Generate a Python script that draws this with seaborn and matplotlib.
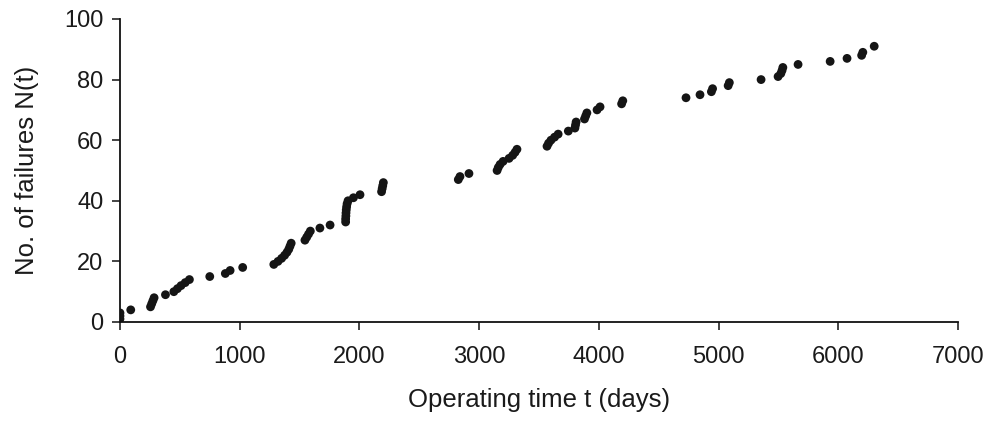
import matplotlib
matplotlib.use("Agg")
import matplotlib.pyplot as plt
import seaborn as sns
import pandas as pd

# Operating time (days) at each failure and cumulative number of failures
time_days = [
    0, 0, 0, 90,
    255, 265, 275, 285,
    380,
    450, 480, 510, 545, 580,
    750, 880, 920, 1025,
    1285, 1320, 1350, 1375, 1395, 1410, 1420, 1430,
    1545, 1560, 1575, 1590,
    1670, 1755,
    1885, 1885, 1887, 1888, 1890, 1893, 1897, 1905,
    1950, 2005,
    2185, 2190, 2195, 2200,
    2826, 2840, 2915,
    3150, 3160, 3175, 3200, 3250, 3280, 3300, 3316,
    3567, 3580, 3600, 3630, 3660,
    3745, 3800, 3805, 3810,
    3880, 3890, 3900,
    3985, 4010,
    4190, 4200,
    4728, 4845, 4940, 4950, 5080, 5090,
    5355, 5497, 5520, 5530, 5537,
    5664, 5932, 6073, 6195, 6205, 6300,
]
failures = [
    1, 2, 3, 4,
    5, 6, 7, 8,
    9,
    10, 11, 12, 13, 14,
    15, 16, 17, 18,
    19, 20, 21, 22, 23, 24, 25, 26,
    27, 28, 29, 30,
    31, 32,
    33, 34, 35, 36, 37, 38, 39, 40,
    41, 42,
    43, 44, 45, 46,
    47, 48, 49,
    50, 51, 52, 53, 54, 55, 56, 57,
    58, 59, 60, 61, 62,
    63, 64, 65, 66,
    67, 68, 69,
    70, 71,
    72, 73,
    74, 75, 76, 77, 78, 79,
    80, 81, 82, 83, 84,
    85, 86, 87, 88, 89, 91,
]

x_ticks = [0, 1000, 2000, 3000, 4000, 5000, 6000, 7000]
y_ticks = [0, 20, 40, 60, 80, 100]

df = pd.DataFrame({"t": time_days, "N": failures})

sns.set_theme(style="ticks")
plt.rcParams["font.family"] = ["Liberation Sans", "DejaVu Sans"]

fig = plt.figure(figsize=(9.85, 4.21), dpi=100)
ax = fig.add_axes([0.1218, 0.2352, 0.8508, 0.7197])

sns.scatterplot(data=df, x="t", y="N", ax=ax, s=40, color="#151515",
                edgecolor="none", linewidth=0)

ax.set_xlim(0, 7000)
ax.set_ylim(0, 100)
ax.set_xticks(x_ticks)
ax.set_yticks(y_ticks)
ax.tick_params(axis="both", direction="out", length=6, width=1.1,
               color="#111111", labelsize=17, labelcolor="#1a1a1a")
ax.tick_params(axis="x", pad=11)
ax.tick_params(axis="y", pad=6)
for side in ("top", "right"):
    ax.spines[side].set_visible(False)
for side in ("left", "bottom"):
    ax.spines[side].set_linewidth(1.3)
    ax.spines[side].set_color("#111111")

ax.set_xlabel("Operating time t (days)", fontsize=18.5, color="#1a1a1a", labelpad=15)
ax.set_ylabel("No. of failures N(t)", fontsize=18.5, color="#1a1a1a", labelpad=18)

fig.savefig("out.png", dpi=100)
